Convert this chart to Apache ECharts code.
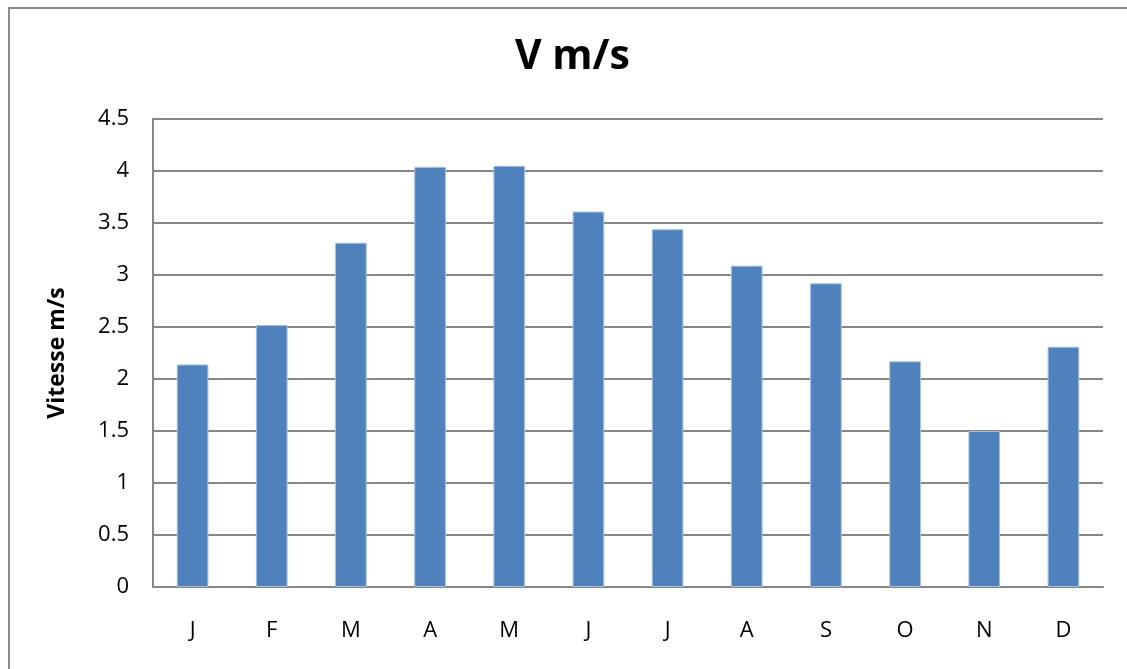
<!DOCTYPE html>
<html>
<head>
<meta charset="utf-8">
<script src="https://cdn.jsdelivr.net/npm/echarts@6/dist/echarts.min.js"></script>
<style>
  html, body { margin: 0; padding: 0; background: #fff; }
  #chart { width: 1127px; height: 669px; }
</style>
</head>
<body>
<div id="chart"></div>
<script>
// Monthly wind speed (m/s)
const months = ['J', 'F', 'M', 'A', 'M', 'J', 'J', 'A', 'S', 'O', 'N', 'D'];
const speeds = [2.14, 2.52, 3.31, 4.04, 4.05, 3.61, 3.44, 3.09, 2.92, 2.17, 1.50, 2.31];
const titleText = 'V m/s';
const yAxisTitle = 'Vitesse m/s';

const FONT = '"Open Sans", "Noto Sans", sans-serif';
const chart = echarts.init(document.getElementById('chart'), null, { renderer: 'canvas' });

chart.setOption({
  animation: false,
  backgroundColor: '#ffffff',
  title: {
    text: titleText,
    left: 515,
    top: 37,
    padding: 0,
    textStyle: { fontFamily: FONT, fontSize: 41, fontWeight: 'bold', color: '#000' }
  },
  graphic: [{
    type: 'rect',
    shape: { x: 9, y: 8, width: 1200, height: 700 },
    style: { fill: 'none', stroke: '#8c8c8c', lineWidth: 2 },
    silent: true
  }],
  grid: { left: 153, right: 24, top: 119, bottom: 82 },
  xAxis: {
    type: 'category',
    data: months,
    axisLine: { lineStyle: { color: '#868686', width: 2 } },
    axisTick: { show: false },
    axisLabel: { color: '#000', fontFamily: FONT, fontSize: 22, margin: 33 }
  },
  yAxis: {
    type: 'value',
    min: 0,
    max: 4.5,
    interval: 0.5,
    name: yAxisTitle,
    nameLocation: 'middle',
    nameGap: 84,
    nameTextStyle: { color: '#000', fontFamily: FONT, fontSize: 23, fontWeight: 'bold' },
    axisLine: { show: true, lineStyle: { color: '#868686', width: 2 } },
    axisTick: { show: false },
    axisLabel: { color: '#000', fontFamily: FONT, fontSize: 22, margin: 24 },
    splitLine: { lineStyle: { color: '#868686', width: 2 } }
  },
  series: [{
    type: 'bar',
    data: speeds,
    barWidth: '40%',
    itemStyle: { color: '#4f81bd', borderColor: '#a7c0e0', borderWidth: 1 }
  }]
});
</script>
</body>
</html>
